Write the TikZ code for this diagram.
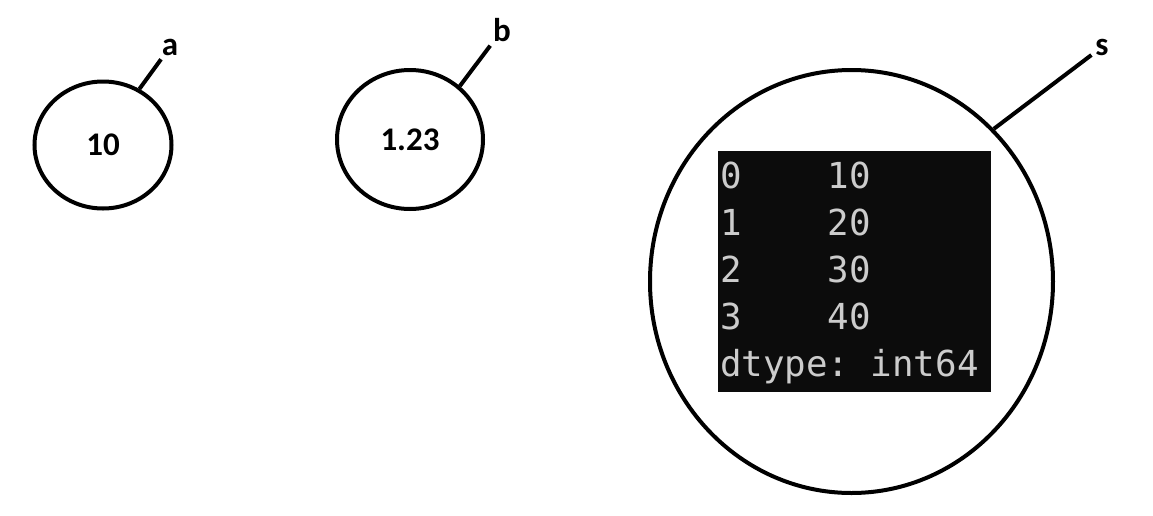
\documentclass[tikz,border=0pt]{standalone}
\usepackage{fontspec}
\setmainfont{Carlito}
\newfontfamily\termfont{DejaVu Sans Mono}
\usetikzlibrary{shapes.geometric}
\definecolor{termbg}{HTML}{0C0C0C}
\definecolor{termfg}{HTML}{CCCCCC}
\tikzset{
    var/.style = {ellipse, draw, line width = 2pt, inner sep = 0pt,
        font = \bfseries\fontsize{16.5}{18}\selectfont},
    varname/.style = {inner sep = 1pt, font = \bfseries\fontsize{16.5}{18}\selectfont},
    termline/.style = {inner sep = 0pt, text = termfg,
        font = \termfont\fontsize{17.9}{20}\selectfont}
}
\begin{document}
\begin{tikzpicture}[x = 0.5pt, y = -0.5pt, line width = 2pt]
    \useasboundingbox (0,0) rectangle (1153,515);

    % variable a
    \node [var, minimum width = 68.5pt, minimum height = 63.5pt] (a) at (103,145) {10};
    \node [varname] (la) at (170,47) {a};
    \draw (a.57) -- (la);

    % variable b
    \node [var, minimum width = 73pt, minimum height = 69.5pt] (b) at (410,139.5) {1.23};
    \node [varname] (lb) at (502,30) {b};
    \draw (b.47) -- (lb);

    % series s
    \node [var, minimum width = 201.5pt, minimum height = 211.5pt] (s) at (851.5,281.5) {};
    \node [varname] (ls) at (1102,47) {s};
    \draw (s.47.5) -- (ls);

    % printed series
    \node [fill = termbg, minimum width = 136.5pt, minimum height = 120.5pt, inner sep = 0pt] (term) at (854.5,271.5) {};
    \foreach \t [count = \i] in {0~~~~10, 1~~~~20, 2~~~~30, 3~~~~40, dtype:~int64}
        \node [termline, anchor = base west] (row\i) at (718, {141 + 47*\i}) {\t};
\end{tikzpicture}
\end{document}
